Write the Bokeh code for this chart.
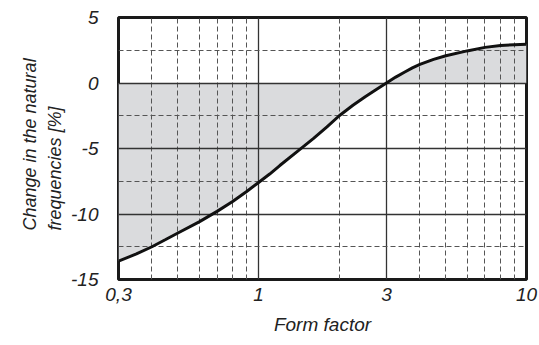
from bokeh.plotting import figure
from bokeh.models import (FixedTicker, Grid, Title, CustomJSTickFormatter, Range1d, ColumnDataSource)
from bokeh.embed import file_html
from bokeh.resources import INLINE

# Data
form_factor = [0.3, 0.35, 0.4, 0.45, 0.5, 0.6, 0.7, 0.8, 0.9, 1.0, 1.1, 1.2, 1.4, 1.6,
               1.8, 2.0, 2.25, 2.5, 2.75, 3.0, 3.25, 3.5, 3.75, 4.0, 4.5, 5.0, 6.0, 7.0,
               8.0, 9.0, 10.0]
freq_change = [-13.6, -13.05, -12.5, -11.95, -11.45, -10.6, -9.8, -9.05, -8.3, -7.6, -6.95,
               -6.3, -5.2, -4.25, -3.35, -2.5, -1.7, -1.05, -0.5, 0.0, 0.45, 0.82, 1.15,
               1.42, 1.8, 2.08, 2.45, 2.72, 2.86, 2.92, 2.95]
baseline = [0.0] * len(form_factor)

x_ticks = [0.3, 1, 3, 10]
x_major_grid = [1, 3]
x_minor_grid = [0.4, 0.5, 0.6, 0.7, 0.8, 0.9, 2, 4, 5, 6, 7, 8, 9]
y_ticks = [-15, -10, -5, 0, 5]
y_major_grid = [-10, -5, 0]
y_minor_grid = [-12.5, -7.5, -2.5, 2.5]
y_title_lines = ["frequencies [%]", "Change in the natural"]

FONT = "Liberation Sans"
FS = "19px"
TFS = "18px"

src = ColumnDataSource(dict(x=form_factor, y=freq_change, base=baseline))

p = figure(width=538, height=337, x_axis_type="log", output_backend="svg",
           toolbar_location=None, x_range=Range1d(0.3, 10), y_range=Range1d(-15, 5),
           min_border_left=118, min_border_right=12, min_border_top=17, min_border_bottom=54)
p.xgrid.visible = False
p.ygrid.visible = False
p.background_fill_color = "white"
p.border_fill_color = "white"
p.outline_line_color = "#1a1a1a"
p.outline_line_width = 3

p.varea(x="x", y1="y", y2="base", source=src, fill_color="#dadbdd", level="underlay")

for ticks, dim, dash, color, w in [
    (x_major_grid, 0, "solid", "#333333", 1.3),
    (x_minor_grid, 0, "5 3", "#555555", 1.0),
    (y_major_grid, 1, "solid", "#333333", 1.3),
    (y_minor_grid, 1, "5 3", "#555555", 1.0),
]:
    g = Grid(dimension=dim, ticker=FixedTicker(ticks=ticks), grid_line_color=color,
             grid_line_width=w, grid_line_dash=dash)
    p.add_layout(g, "center")

p.line(x="x", y="y", source=src, line_color="#111111", line_width=3)

for ax in (p.xaxis[0], p.yaxis[0]):
    ax.axis_line_color = None
    ax.major_tick_line_color = None
    ax.minor_tick_line_color = None
    ax.major_label_text_font = FONT
    ax.major_label_text_font_style = "italic"
    ax.major_label_text_font_size = FS
    ax.major_label_text_color = "#222222"

p.xaxis.ticker = FixedTicker(ticks=x_ticks)
p.xaxis.formatter = CustomJSTickFormatter(code="return String(tick).replace('.', ',');")
p.xaxis.major_label_standoff = 2
p.yaxis.ticker = FixedTicker(ticks=y_ticks)
p.yaxis.formatter = CustomJSTickFormatter(code="return String(tick);")
p.yaxis.major_label_standoff = 14

p.xaxis.axis_label = "Form factor"
p.xaxis.axis_label_text_font = FONT
p.xaxis.axis_label_text_font_style = "italic"
p.xaxis.axis_label_text_font_size = FS
p.xaxis.axis_label_text_color = "#222222"
p.xaxis.axis_label_standoff = 10

for txt, so in zip(y_title_lines, [7, 0]):
    t = Title(text=txt, align="left", offset=49, standoff=so,
              text_font=FONT, text_font_style="italic", text_font_size=TFS,
              text_color="#222222")
    p.add_layout(t, "left")

open("out.html", "w").write(file_html(p, INLINE))
